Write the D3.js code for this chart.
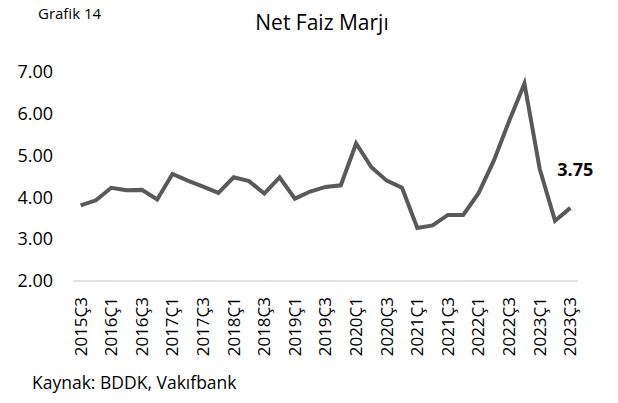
<!DOCTYPE html>
<html>
<head>
<meta charset="utf-8">
<script src="https://cdn.jsdelivr.net/npm/d3@7"></script>
<style>
  body { margin: 0; background: #fff; }
  svg { display: block; font-family: "Open Sans", sans-serif; }
</style>
</head>
<body>
<div id="viz"></div>
<script>
// Veriler: çeyreklik net faiz marjı (%)
const quarters = [
  "2015Ç3","2015Ç4",
  "2016Ç1","2016Ç2","2016Ç3","2016Ç4",
  "2017Ç1","2017Ç2","2017Ç3","2017Ç4",
  "2018Ç1","2018Ç2","2018Ç3","2018Ç4",
  "2019Ç1","2019Ç2","2019Ç3","2019Ç4",
  "2020Ç1","2020Ç2","2020Ç3","2020Ç4",
  "2021Ç1","2021Ç2","2021Ç3","2021Ç4",
  "2022Ç1","2022Ç2","2022Ç3","2022Ç4",
  "2023Ç1","2023Ç2","2023Ç3"
];
const nfm = [
  3.81, 3.93,
  4.23, 4.17, 4.18, 3.95,
  4.56, 4.40, 4.26, 4.11,
  4.48, 4.39, 4.09, 4.48,
  3.97, 4.14, 4.25, 4.29,
  5.29, 4.72, 4.40, 4.23,
  3.27, 3.33, 3.58, 3.58,
  4.10, 4.88, 5.83, 6.72,
  4.68, 3.44, 3.75
];
const xTickLabels = quarters.filter((q, i) => i % 2 === 0);
const yTicks = [2, 3, 4, 5, 6, 7];
const lastLabel = "3.75";

(function(){
  const W = 618, H = 403;
  const svg = d3.select("#viz").append("svg")
    .attr("width", W).attr("height", H);

  // Başlıklar
  svg.append("text")
    .attr("x", 38).attr("y", 19)
    .attr("font-size", 15).attr("fill", "#000")
    .text("Grafik 14");
  svg.append("text")
    .attr("x", 322).attr("y", 30)
    .attr("text-anchor", "middle")
    .attr("font-size", 21).attr("fill", "#000")
    .text("Net Faiz Marjı");

  // Ölçekler
  const x = d3.scaleBand().domain(quarters).range([73, 578]);
  const cx = d => x(d) + x.bandwidth() / 2;
  const y = d3.scaleLinear().domain([2, 7]).range([281, 72]);

  // Y ekseni etiketleri
  const yAxis = svg.append("g")
    .attr("transform", "translate(53,0)")
    .call(d3.axisLeft(y).tickValues(yTicks).tickFormat(d3.format(".2f")).tickSize(0).tickPadding(0));
  yAxis.select(".domain").remove();
  yAxis.selectAll("text")
    .attr("font-size", 18).attr("font-family", "Open Sans, sans-serif")
    .attr("fill", "#000");

  // Taban çizgisi
  svg.append("line")
    .attr("x1", 73).attr("x2", 578)
    .attr("y1", y(2)).attr("y2", y(2))
    .attr("stroke", "#d9d9d9").attr("stroke-width", 1.5);

  // X ekseni etiketleri
  svg.append("g").selectAll("text")
    .data(xTickLabels)
    .enter().append("text")
      .attr("transform", d => `translate(${cx(d)},297) rotate(-90)`)
      .attr("dy", "0.35em")
      .attr("text-anchor", "end")
      .attr("font-size", 17).attr("fill", "#000")
      .text(d => d);

  // Çizgi
  const line = d3.line()
    .x((d, i) => cx(quarters[i]))
    .y(d => y(d));
  svg.append("path")
    .datum(nfm)
    .attr("fill", "none")
    .attr("stroke", "#595959")
    .attr("stroke-width", 4)
    .attr("stroke-linejoin", "miter")
    .attr("d", line);

  // Son değer etiketi
  const li = quarters.length - 1;
  svg.append("text")
    .attr("x", cx(quarters[li]) + 5)
    .attr("y", y(nfm[li]) - 32)
    .attr("text-anchor", "middle")
    .attr("font-size", 18).attr("font-weight", "bold").attr("fill", "#000")
    .text(lastLabel);

  // Kaynak
  svg.append("text")
    .attr("x", 32).attr("y", 389)
    .attr("font-size", 17.5).attr("fill", "#000")
    .text("Kaynak: BDDK, Vakıfbank");
})();
</script>
</body>
</html>
